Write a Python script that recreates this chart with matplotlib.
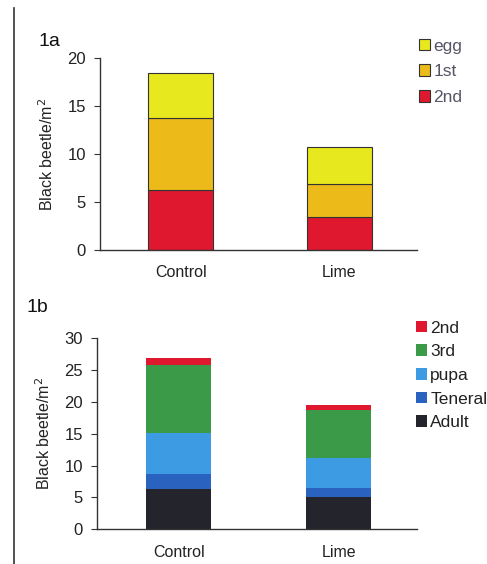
import matplotlib
matplotlib.use('Agg')
import matplotlib.pyplot as plt
from matplotlib.patches import Patch
from matplotlib.lines import Line2D

plt.rcParams['font.family'] = ['Liberation Sans', 'DejaVu Sans']

groups = ['Control', 'Lime']

# panel 1a stages (bottom to top)
stages_a = ['2nd', '1st', 'egg']
vals_a = {
    '2nd': [6.2, 3.4],
    '1st': [7.5, 3.5],
    'egg': [4.7, 3.8],
}
colors_a = {'2nd': '#e0182f', '1st': '#ecbb1a', 'egg': '#e8e81e'}

# panel 1b stages (bottom to top)
stages_b = ['Adult', 'Teneral', 'pupa', '3rd', '2nd']
vals_b = {
    'Adult': [6.4, 5.0],
    'Teneral': [2.3, 1.5],
    'pupa': [6.5, 4.7],
    '3rd': [10.6, 7.5],
    '2nd': [1.1, 0.9],
}
colors_b = {'Adult': '#24252c', 'Teneral': '#2a62c0', 'pupa': '#3c9be2',
            '3rd': '#3a9a48', '2nd': '#e0182f'}

W, H = 487, 564
fig = plt.figure(figsize=(W / 100, H / 100), dpi=100)

def stacked(ax, stages, vals, colors, ymax, yticks, edge):
    x = [0, 1]
    bottom = [0, 0]
    for s in stages:
        ax.bar(x, vals[s], bottom=bottom, width=0.41, color=colors[s],
               edgecolor=edge, linewidth=0.8)
        bottom = [b + v for b, v in zip(bottom, vals[s])]
    ax.set_xlim(-0.51, 1.49)
    ax.set_ylim(0, ymax)
    ax.set_yticks(yticks)
    ax.set_xticks(x)
    ax.set_xticklabels(groups, fontsize=11.5, color='#222222')
    ax.tick_params(axis='x', length=0, pad=11)
    ax.tick_params(axis='y', labelsize=12, direction='out', length=4,
                   color='#333333', labelcolor='#222222', pad=6)
    for sp in ['top', 'right']:
        ax.spines[sp].set_visible(False)
    for sp in ['left', 'bottom']:
        ax.spines[sp].set_color('#333333')
        ax.spines[sp].set_linewidth(1.0)
    ax.set_ylabel('Black beetle/m$^2$', fontsize=11.5, color='#222222', labelpad=8)

ax1 = fig.add_axes([100 / W, 1 - 250 / H, 317 / W, 192 / H])
stacked(ax1, stages_a, vals_a, colors_a, 20, [0, 5, 10, 15, 20], '#333333')

ax2 = fig.add_axes([97 / W, 1 - 529.3 / H, 320 / W, 191 / H])
stacked(ax2, stages_b, vals_b, colors_b, 30, [0, 5, 10, 15, 20, 25, 30], 'none')

fig.text(38 / W, 1 - 42 / H, '1a', fontsize=14, color='#111111', va='center')
fig.text(26 / W, 1 - 308 / H, '1b', fontsize=14, color='#111111', va='center')

h_a = [Patch(facecolor=colors_a[s], edgecolor='#333333', linewidth=0.8)
       for s in stages_a[::-1]]
fig.legend(h_a, stages_a[::-1], loc='upper left',
           bbox_to_anchor=(403 / W, 1 - 23 / H), frameon=False,
           fontsize=12.5, labelcolor='#555566', handlelength=0.65,
           handleheight=0.65, handletextpad=0.2, labelspacing=0.62)

h_b = [Patch(facecolor=colors_b[s], edgecolor='none') for s in stages_b[::-1]]
fig.legend(h_b, stages_b[::-1], loc='upper left',
           bbox_to_anchor=(400 / W, 1 - 305 / H), frameon=False,
           fontsize=12.5, labelcolor='#222222', handlelength=0.65,
           handleheight=0.65, handletextpad=0.2, labelspacing=0.5)

# scanned page edge line at left
fig.add_artist(Line2D([14 / W, 14 / W], [0, 1 - 8 / H], color='#333333',
                      linewidth=1.2, transform=fig.transFigure))

fig.savefig('out.png', dpi=100, facecolor='white')
